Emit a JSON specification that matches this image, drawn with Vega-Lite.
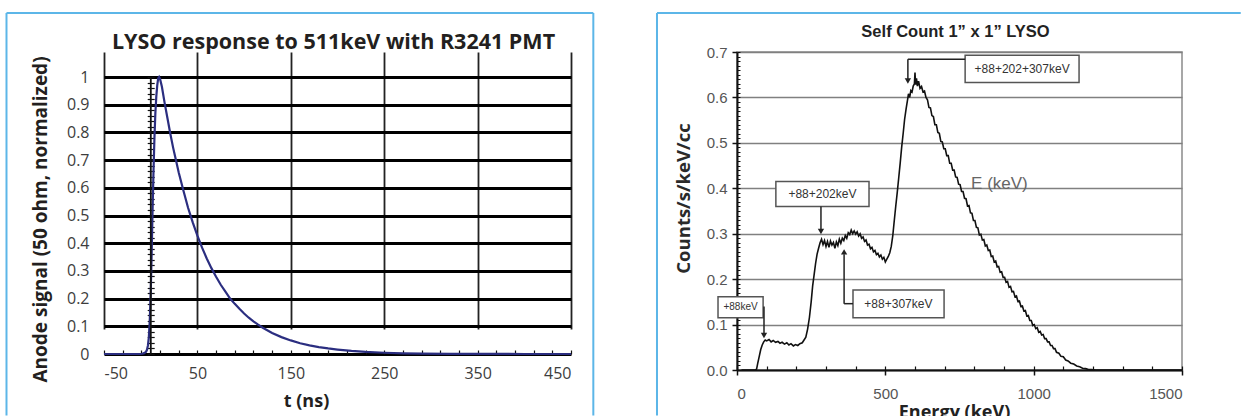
{
  "$schema": "https://vega.github.io/schema/vega-lite/v6.json",
  "background": "white",
  "padding": {"left": 5, "top": 11, "right": 0, "bottom": 0},
  "spacing": 60,
  "config": {"view": {"stroke": null}},
  "datasets": {
    "pulse": [
      {"t": -50, "v": 0}, {"t": -20, "v": 0}, {"t": -12, "v": 0}, {"t": -9, "v": 0.001}, {"t": -7, "v": 0.003},
      {"t": -5, "v": 0.008}, {"t": -4, "v": 0.015}, {"t": -3, "v": 0.03}, {"t": -2, "v": 0.06}, {"t": -1, "v": 0.12},
      {"t": 0, "v": 0.22}, {"t": 1, "v": 0.36}, {"t": 2, "v": 0.52}, {"t": 3, "v": 0.66}, {"t": 4, "v": 0.78},
      {"t": 5, "v": 0.87}, {"t": 6, "v": 0.93}, {"t": 7, "v": 0.97}, {"t": 8, "v": 0.995}, {"t": 9, "v": 1.0},
      {"t": 10, "v": 0.993}, {"t": 12, "v": 0.965}, {"t": 15, "v": 0.905}, {"t": 18, "v": 0.85}, {"t": 21, "v": 0.795},
      {"t": 24, "v": 0.745}, {"t": 27, "v": 0.7}, {"t": 30, "v": 0.655}, {"t": 35, "v": 0.59}, {"t": 40, "v": 0.528},
      {"t": 45, "v": 0.475}, {"t": 50, "v": 0.427}, {"t": 55, "v": 0.384}, {"t": 60, "v": 0.345}, {"t": 65, "v": 0.31},
      {"t": 70, "v": 0.279}, {"t": 75, "v": 0.25}, {"t": 80, "v": 0.225}, {"t": 85, "v": 0.2}, {"t": 90, "v": 0.181},
      {"t": 95, "v": 0.163}, {"t": 100, "v": 0.146}, {"t": 105, "v": 0.131}, {"t": 110, "v": 0.118}, {"t": 115, "v": 0.106},
      {"t": 120, "v": 0.095}, {"t": 130, "v": 0.076}, {"t": 140, "v": 0.061}, {"t": 150, "v": 0.049}, {"t": 160, "v": 0.039},
      {"t": 170, "v": 0.031}, {"t": 180, "v": 0.025}, {"t": 190, "v": 0.02}, {"t": 200, "v": 0.016}, {"t": 215, "v": 0.011},
      {"t": 230, "v": 0.0075}, {"t": 250, "v": 0.0045}, {"t": 270, "v": 0.0025}, {"t": 290, "v": 0.0015}, {"t": 320, "v": 0.0007},
      {"t": 350, "v": 0.0003}, {"t": 400, "v": 0}, {"t": 450, "v": 0}
    ],
    "spectrum": [
      {"e": 15, "v": 0}, {"e": 40, "v": 0}, {"e": 62, "v": 0}, {"e": 66, "v": 0.002}, {"e": 70, "v": 0.015}, {"e": 75, "v": 0.03},
      {"e": 80, "v": 0.045}, {"e": 85, "v": 0.055}, {"e": 90, "v": 0.062}, {"e": 95, "v": 0.066}, {"e": 100, "v": 0.064},
      {"e": 108, "v": 0.067}, {"e": 115, "v": 0.062}, {"e": 122, "v": 0.065}, {"e": 130, "v": 0.061}, {"e": 138, "v": 0.063},
      {"e": 145, "v": 0.059}, {"e": 152, "v": 0.061}, {"e": 160, "v": 0.057}, {"e": 168, "v": 0.06}, {"e": 175, "v": 0.055},
      {"e": 182, "v": 0.058}, {"e": 190, "v": 0.053}, {"e": 197, "v": 0.056}, {"e": 205, "v": 0.054}, {"e": 212, "v": 0.058},
      {"e": 220, "v": 0.06}, {"e": 226, "v": 0.066}, {"e": 232, "v": 0.072}, {"e": 238, "v": 0.09}, {"e": 244, "v": 0.115},
      {"e": 250, "v": 0.15}, {"e": 255, "v": 0.185}, {"e": 260, "v": 0.21}, {"e": 265, "v": 0.235}, {"e": 270, "v": 0.255},
      {"e": 275, "v": 0.268}, {"e": 280, "v": 0.28}, {"e": 285, "v": 0.288}, {"e": 290, "v": 0.276}, {"e": 295, "v": 0.285},
      {"e": 300, "v": 0.272}, {"e": 305, "v": 0.283}, {"e": 310, "v": 0.27}, {"e": 315, "v": 0.284}, {"e": 320, "v": 0.275},
      {"e": 325, "v": 0.281}, {"e": 330, "v": 0.268}, {"e": 335, "v": 0.282}, {"e": 340, "v": 0.274}, {"e": 345, "v": 0.288},
      {"e": 350, "v": 0.279}, {"e": 355, "v": 0.29}, {"e": 360, "v": 0.285}, {"e": 365, "v": 0.296}, {"e": 370, "v": 0.29},
      {"e": 375, "v": 0.302}, {"e": 380, "v": 0.298}, {"e": 385, "v": 0.308}, {"e": 390, "v": 0.3}, {"e": 395, "v": 0.306},
      {"e": 400, "v": 0.299}, {"e": 405, "v": 0.304}, {"e": 410, "v": 0.295}, {"e": 415, "v": 0.3}, {"e": 420, "v": 0.29},
      {"e": 425, "v": 0.293}, {"e": 430, "v": 0.283}, {"e": 435, "v": 0.286}, {"e": 440, "v": 0.275}, {"e": 445, "v": 0.277},
      {"e": 450, "v": 0.267}, {"e": 455, "v": 0.27}, {"e": 460, "v": 0.26}, {"e": 465, "v": 0.263}, {"e": 470, "v": 0.254},
      {"e": 475, "v": 0.257}, {"e": 480, "v": 0.249}, {"e": 485, "v": 0.253}, {"e": 490, "v": 0.244}, {"e": 495, "v": 0.248},
      {"e": 500, "v": 0.238}, {"e": 505, "v": 0.244}, {"e": 510, "v": 0.25}, {"e": 515, "v": 0.258}, {"e": 520, "v": 0.272},
      {"e": 525, "v": 0.295}, {"e": 530, "v": 0.328}, {"e": 535, "v": 0.36}, {"e": 540, "v": 0.39}, {"e": 545, "v": 0.422},
      {"e": 550, "v": 0.455}, {"e": 555, "v": 0.49}, {"e": 560, "v": 0.52}, {"e": 565, "v": 0.552}, {"e": 570, "v": 0.575},
      {"e": 575, "v": 0.595}, {"e": 578, "v": 0.608}, {"e": 582, "v": 0.6}, {"e": 586, "v": 0.615}, {"e": 590, "v": 0.612},
      {"e": 594, "v": 0.625}, {"e": 598, "v": 0.63}, {"e": 600, "v": 0.655}, {"e": 602, "v": 0.628}, {"e": 605, "v": 0.642},
      {"e": 608, "v": 0.625}, {"e": 612, "v": 0.636}, {"e": 617, "v": 0.62}, {"e": 622, "v": 0.624}, {"e": 627, "v": 0.612},
      {"e": 632, "v": 0.614}, {"e": 637, "v": 0.6}, {"e": 642, "v": 0.595}, {"e": 647, "v": 0.578}, {"e": 652, "v": 0.577},
      {"e": 657, "v": 0.56}, {"e": 662, "v": 0.558}, {"e": 667, "v": 0.54}, {"e": 672, "v": 0.54}, {"e": 677, "v": 0.523},
      {"e": 682, "v": 0.521}, {"e": 687, "v": 0.503}, {"e": 692, "v": 0.502}, {"e": 697, "v": 0.487}, {"e": 702, "v": 0.487},
      {"e": 707, "v": 0.472}, {"e": 712, "v": 0.472}, {"e": 717, "v": 0.455}, {"e": 722, "v": 0.455}, {"e": 727, "v": 0.44},
      {"e": 732, "v": 0.44}, {"e": 737, "v": 0.425}, {"e": 742, "v": 0.424}, {"e": 747, "v": 0.409}, {"e": 752, "v": 0.408},
      {"e": 757, "v": 0.393}, {"e": 762, "v": 0.393}, {"e": 767, "v": 0.378}, {"e": 772, "v": 0.377}, {"e": 777, "v": 0.361},
      {"e": 782, "v": 0.362}, {"e": 787, "v": 0.346}, {"e": 792, "v": 0.345}, {"e": 797, "v": 0.329}, {"e": 802, "v": 0.329},
      {"e": 807, "v": 0.314}, {"e": 812, "v": 0.313}, {"e": 817, "v": 0.297}, {"e": 822, "v": 0.299}, {"e": 827, "v": 0.286},
      {"e": 832, "v": 0.287}, {"e": 837, "v": 0.273}, {"e": 842, "v": 0.275}, {"e": 847, "v": 0.263}, {"e": 852, "v": 0.264},
      {"e": 857, "v": 0.25}, {"e": 862, "v": 0.251}, {"e": 867, "v": 0.238}, {"e": 872, "v": 0.24}, {"e": 877, "v": 0.227},
      {"e": 882, "v": 0.228}, {"e": 887, "v": 0.215}, {"e": 892, "v": 0.216}, {"e": 897, "v": 0.204}, {"e": 902, "v": 0.204},
      {"e": 907, "v": 0.193}, {"e": 912, "v": 0.195}, {"e": 917, "v": 0.182}, {"e": 922, "v": 0.184}, {"e": 927, "v": 0.172},
      {"e": 932, "v": 0.173}, {"e": 937, "v": 0.161}, {"e": 942, "v": 0.163}, {"e": 947, "v": 0.151}, {"e": 952, "v": 0.152},
      {"e": 957, "v": 0.14}, {"e": 962, "v": 0.141}, {"e": 967, "v": 0.13}, {"e": 972, "v": 0.131}, {"e": 977, "v": 0.119},
      {"e": 982, "v": 0.12}, {"e": 987, "v": 0.109}, {"e": 992, "v": 0.109}, {"e": 997, "v": 0.098}, {"e": 1002, "v": 0.1},
      {"e": 1007, "v": 0.091}, {"e": 1012, "v": 0.093}, {"e": 1017, "v": 0.083}, {"e": 1022, "v": 0.085}, {"e": 1027, "v": 0.077},
      {"e": 1032, "v": 0.078}, {"e": 1037, "v": 0.069}, {"e": 1042, "v": 0.069}, {"e": 1047, "v": 0.062}, {"e": 1052, "v": 0.062},
      {"e": 1057, "v": 0.054}, {"e": 1062, "v": 0.054}, {"e": 1067, "v": 0.047}, {"e": 1072, "v": 0.047}, {"e": 1077, "v": 0.039},
      {"e": 1085, "v": 0.037}, {"e": 1092, "v": 0.03}, {"e": 1100, "v": 0.029}, {"e": 1108, "v": 0.022}, {"e": 1116, "v": 0.02},
      {"e": 1125, "v": 0.015}, {"e": 1135, "v": 0.013}, {"e": 1145, "v": 0.009}, {"e": 1155, "v": 0.007}, {"e": 1165, "v": 0.004},
      {"e": 1175, "v": 0.003}, {"e": 1185, "v": 0.001}, {"e": 1195, "v": 0.001}, {"e": 1210, "v": 0}, {"e": 1250, "v": 0},
      {"e": 1350, "v": 0}, {"e": 1500, "v": 0}
    ],
    "boxes": [
      {"label": "+88+202+307keV", "e1": 769, "e2": 1153, "v1": 0.633, "v2": 0.693, "ec": 961, "vc": 0.663},
      {"label": "+88+202keV", "e1": 131, "e2": 445, "v1": 0.36, "v2": 0.415, "ec": 288, "vc": 0.388},
      {"label": "+88+307keV", "e1": 391, "e2": 698, "v1": 0.115, "v2": 0.176, "ec": 544, "vc": 0.146},
      {"label": "+88keV", "e1": -64, "e2": 88, "v1": 0.115, "v2": 0.161, "ec": 12, "vc": 0.138}
    ],
    "arrows": [
      {"e1": 576, "v1": 0.684, "e2": 769, "v2": 0.684},
      {"e1": 576, "v1": 0.684, "e2": 576, "v2": 0.64},
      {"e1": 283, "v1": 0.36, "e2": 283, "v2": 0.31},
      {"e1": 361, "v1": 0.146, "e2": 391, "v2": 0.146},
      {"e1": 361, "v1": 0.146, "e2": 361, "v2": 0.255},
      {"e1": 91, "v1": 0.14, "e2": 91, "v2": 0.08}
    ],
    "heads": [
      {"e": 576, "v": 0.636, "dir": "down"},
      {"e": 283, "v": 0.305, "dir": "down"},
      {"e": 361, "v": 0.26, "dir": "up"},
      {"e": 91, "v": 0.076, "dir": "down"}
    ]
  },
  "hconcat": [
    {
      "width": 467,
      "height": 302,
      "title": {"text": "LYSO response to 511keV with R3241 PMT", "font": "Open Sans", "fontSize": 21.5, "fontWeight": "bold", "color": "#231f20", "frame": "group", "anchor": "middle", "offset": -41.5, "dx": -4},
      "resolve": {"axis": {"x": "independent", "y": "independent"}},
      "layer": [
        {
          "data": {"name": "pulse"},
          "mark": {"type": "line", "color": "#2b2e80", "strokeWidth": 2.2},
          "encoding": {
            "x": {"field": "t", "type": "quantitative", "scale": {"domain": [-50, 450], "nice": false, "zero": false},
              "axis": {"orient": "bottom", "values": [-50, 50, 150, 250, 350, 450], "labelExpr": "replace(datum.label, '−', '-')", "grid": true, "gridColor": "#222222", "gridWidth": 1.8, "ticks": false, "domain": false,
                "labelFont": "Open Sans", "labelFontSize": 16, "labelColor": "#3d3d3d", "labelPadding": 11,
                "title": "t (ns)", "titleFont": "Open Sans", "titleFontSize": 18, "titleFontWeight": "bold", "titleColor": "#231f20", "titlePadding": 11, "titleX": 202}},
            "y": {"field": "v", "type": "quantitative", "scale": {"domain": [0, 1], "nice": false, "zero": false, "range": [302, 25]},
              "axis": {"orient": "left", "values": [0, 0.1, 0.2, 0.3, 0.4, 0.5, 0.6, 0.7, 0.8, 0.9, 1], "format": "~g", "grid": true, "gridColor": "#000000", "gridWidth": 3, "ticks": false, "domain": false,
                "labelFont": "Open Sans", "labelFontSize": 16, "labelColor": "#3d3d3d", "labelPadding": 15,
                "title": "Anode signal (50 ohm, normalized)", "titleFont": "Open Sans", "titleFontSize": 19, "titleFontWeight": "bold", "titleColor": "#231f20", "titlePadding": 16, "titleY": 167}}
          }
        },
        {
          "data": {"values": [{}]},
          "mark": {"type": "rule", "color": "#111111", "strokeWidth": 1.5},
          "encoding": {
            "x": {"datum": 0, "type": "quantitative", "scale": {"domain": [-50, 450], "nice": false, "zero": false},
              "axis": {"orient": "top", "offset": -302, "values": [-50, -30, -10, 10, 30, 50, 70, 90, 110, 130, 150, 170, 190, 210, 230, 250, 270, 290, 310, 330, 350, 370, 390, 410, 430, 450],
                "labels": false, "domain": false, "grid": false, "ticks": true, "tickSize": 4, "tickColor": "#111111", "tickWidth": 1.2, "title": null}},
            "y": {"datum": 0, "type": "quantitative", "scale": {"domain": [0, 1], "nice": false, "zero": false, "range": [302, 25]},
              "axis": {"orient": "left", "offset": -46.7, "values": [0, 0.02, 0.04, 0.06, 0.08, 0.1, 0.12, 0.14, 0.16, 0.18, 0.2, 0.22, 0.24, 0.26, 0.28, 0.3, 0.32, 0.34, 0.36, 0.38, 0.4, 0.42, 0.44, 0.46, 0.48, 0.5, 0.52, 0.54, 0.56, 0.58, 0.6, 0.62, 0.64, 0.66, 0.68, 0.7, 0.72, 0.74, 0.76, 0.78, 0.8, 0.82, 0.84, 0.86, 0.88, 0.9, 0.92, 0.94, 0.96, 0.98, 1],
                "labels": false, "domain": false, "grid": false, "ticks": true, "tickSize": 3.5, "tickColor": "#111111", "tickWidth": 1.2, "title": null}},
            "y2": {"datum": 1}
          }
        },
        {
          "data": {"values": [{}]},
          "mark": {"type": "rule", "color": "#111111", "strokeWidth": 1.5},
          "encoding": {
            "x": {"datum": 0, "type": "quantitative", "scale": {"domain": [-50, 450], "nice": false, "zero": false}, "axis": null},
            "y": {"datum": 0, "type": "quantitative", "scale": {"domain": [0, 1], "nice": false, "zero": false, "range": [302, 25]},
              "axis": {"orient": "right", "offset": -420.3, "values": [0, 0.02, 0.04, 0.06, 0.08, 0.1, 0.12, 0.14, 0.16, 0.18, 0.2, 0.22, 0.24, 0.26, 0.28, 0.3, 0.32, 0.34, 0.36, 0.38, 0.4, 0.42, 0.44, 0.46, 0.48, 0.5, 0.52, 0.54, 0.56, 0.58, 0.6, 0.62, 0.64, 0.66, 0.68, 0.7, 0.72, 0.74, 0.76, 0.78, 0.8, 0.82, 0.84, 0.86, 0.88, 0.9, 0.92, 0.94, 0.96, 0.98, 1],
                "labels": false, "domain": false, "grid": false, "ticks": true, "tickSize": 3.5, "tickColor": "#111111", "tickWidth": 1.2, "title": null}},
            "y2": {"datum": 1}
          }
        },
        {
          "data": {"values": [{}]},
          "mark": {"type": "rule", "color": "#5cb6e8", "strokeWidth": 2},
          "encoding": {
            "x": {"datum": -154.4, "type": "quantitative", "scale": {"domain": [-50, 450], "nice": false, "zero": false}, "axis": null},
            "y": {"datum": -0.222, "type": "quantitative", "scale": {"domain": [0, 1], "nice": false, "zero": false, "range": [302, 25]}, "axis": null},
            "y2": {"datum": 1.231}
          }
        },
        {
          "data": {"values": [{}]},
          "mark": {"type": "rule", "color": "#5cb6e8", "strokeWidth": 2},
          "encoding": {
            "x": {"datum": 473.9, "type": "quantitative", "scale": {"domain": [-50, 450], "nice": false, "zero": false}, "axis": null},
            "y": {"datum": -0.222, "type": "quantitative", "scale": {"domain": [0, 1], "nice": false, "zero": false, "range": [302, 25]}, "axis": null},
            "y2": {"datum": 1.231}
          }
        },
        {
          "data": {"values": [{}]},
          "mark": {"type": "rule", "color": "#5cb6e8", "strokeWidth": 2},
          "encoding": {
            "x": {"datum": -154.4, "type": "quantitative", "scale": {"domain": [-50, 450], "nice": false, "zero": false}, "axis": null},
            "x2": {"datum": 473.9},
            "y": {"datum": 1.231, "type": "quantitative", "scale": {"domain": [0, 1], "nice": false, "zero": false, "range": [302, 25]}, "axis": null}
          }
        }
      ]
    },
    {
      "width": 445,
      "height": 318,
      "view": {"stroke": "#8a8a8a", "strokeWidth": 1.5},
      "title": {"text": "Self Count 1” x 1” LYSO", "font": "Liberation Sans", "fontSize": 16.5, "fontWeight": "bold", "color": "#222222", "frame": "group", "anchor": "middle", "offset": -28, "dx": -4},
      "resolve": {"axis": {"x": "independent", "y": "independent"}},
      "layer": [
        {
          "data": {"name": "spectrum"},
          "mark": {"type": "line", "color": "#111111", "strokeWidth": 1.6},
          "encoding": {
            "x": {"field": "e", "type": "quantitative", "scale": {"domain": [0, 1500], "nice": false, "zero": false},
              "axis": {"orient": "bottom", "values": [0, 500, 1000, 1500], "format": "d", "grid": false, "ticks": true, "tickSize": 5, "tickColor": "#111111", "tickWidth": 1.5, "domain": true, "domainColor": "#111111", "domainWidth": 2,
                "labelFont": "Liberation Sans", "labelFontSize": 15, "labelColor": "#555555", "labelPadding": 11,
                "title": "Energy (keV)", "titleFont": "Open Sans", "titleFontSize": 18, "titleFontWeight": "bold", "titleColor": "#222222", "titlePadding": 2, "titleX": 217}},
            "y": {"field": "v", "type": "quantitative", "scale": {"domain": [0, 0.7], "nice": false, "zero": false},
              "axis": {"orient": "left", "values": [0, 0.1, 0.2, 0.3, 0.4, 0.5, 0.6, 0.7], "format": ".1f", "grid": true, "gridColor": "#808080", "gridWidth": 1.5, "ticks": true, "tickSize": 5, "tickColor": "#111111", "tickWidth": 1.5, "domain": true, "domainColor": "#111111", "domainWidth": 2,
                "labelFont": "Liberation Sans", "labelFontSize": 15, "labelColor": "#555555", "labelPadding": 5,
                "title": "Counts/s/keV/cc", "titleFont": "Open Sans", "titleFontSize": 18.5, "titleFontWeight": "bold", "titleColor": "#2a2a2a", "titlePadding": 13, "titleY": 146}}
          }
        },
        {
          "data": {"values": [{}]},
          "mark": {"type": "point", "opacity": 0},
          "encoding": {
            "x": {"datum": 0, "type": "quantitative", "scale": {"domain": [0, 1500], "nice": false, "zero": false},
              "axis": {"orient": "top", "offset": -318, "values": [0, 100, 200, 300, 400, 500, 600, 700, 800, 900, 1000, 1100, 1200, 1300, 1400, 1500],
                "labels": false, "domain": false, "grid": false, "ticks": true, "tickSize": 4, "tickColor": "#111111", "tickWidth": 1.2, "title": null}},
            "y": {"datum": 0, "type": "quantitative", "scale": {"domain": [0, 0.7], "nice": false, "zero": false},
              "axis": {"orient": "right", "offset": -445, "values": [0, 0.01, 0.02, 0.03, 0.04, 0.05, 0.06, 0.07, 0.08, 0.09, 0.1, 0.11, 0.12, 0.13, 0.14, 0.15, 0.16, 0.17, 0.18, 0.19, 0.2, 0.21, 0.22, 0.23, 0.24, 0.25, 0.26, 0.27, 0.28, 0.29, 0.3, 0.31, 0.32, 0.33, 0.34, 0.35, 0.36, 0.37, 0.38, 0.39, 0.4, 0.41, 0.42, 0.43, 0.44, 0.45, 0.46, 0.47, 0.48, 0.49, 0.5, 0.51, 0.52, 0.53, 0.54, 0.55, 0.56, 0.57, 0.58, 0.59, 0.6, 0.61, 0.62, 0.63, 0.64, 0.65, 0.66, 0.67, 0.68, 0.69, 0.7],
                "labels": false, "domain": false, "grid": false, "ticks": true, "tickSize": 3, "tickColor": "#111111", "tickWidth": 1, "title": null}}
          }
        },
        {
          "data": {"name": "boxes"},
          "mark": {"type": "rect", "fill": "white", "stroke": "#555555", "strokeWidth": 1.5},
          "encoding": {
            "x": {"field": "e1", "type": "quantitative", "scale": {"domain": [0, 1500], "nice": false, "zero": false}, "axis": null},
            "x2": {"field": "e2"},
            "y": {"field": "v1", "type": "quantitative", "scale": {"domain": [0, 0.7], "nice": false, "zero": false}, "axis": null},
            "y2": {"field": "v2"}
          }
        },
        {
          "data": {"name": "boxes"},
          "transform": [{"filter": "datum.label !== '+88keV'"}],
          "mark": {"type": "text", "font": "Liberation Sans", "fontSize": 12, "color": "#333333"},
          "encoding": {
            "x": {"field": "ec", "type": "quantitative", "scale": {"domain": [0, 1500], "nice": false, "zero": false}, "axis": null},
            "y": {"field": "vc", "type": "quantitative", "scale": {"domain": [0, 0.7], "nice": false, "zero": false}, "axis": null},
            "text": {"field": "label"}
          }
        },
        {
          "data": {"name": "boxes"},
          "transform": [{"filter": "datum.label === '+88keV'"}],
          "mark": {"type": "text", "font": "Liberation Sans", "fontSize": 10, "color": "#333333"},
          "encoding": {
            "x": {"field": "ec", "type": "quantitative", "scale": {"domain": [0, 1500], "nice": false, "zero": false}, "axis": null},
            "y": {"field": "vc", "type": "quantitative", "scale": {"domain": [0, 0.7], "nice": false, "zero": false}, "axis": null},
            "text": {"field": "label"}
          }
        },
        {
          "data": {"name": "arrows"},
          "mark": {"type": "rule", "color": "#222222", "strokeWidth": 1.5},
          "encoding": {
            "x": {"field": "e1", "type": "quantitative", "scale": {"domain": [0, 1500], "nice": false, "zero": false}, "axis": null},
            "x2": {"field": "e2"},
            "y": {"field": "v1", "type": "quantitative", "scale": {"domain": [0, 0.7], "nice": false, "zero": false}, "axis": null},
            "y2": {"field": "v2"}
          }
        },
        {
          "data": {"name": "heads"},
          "mark": {"type": "point", "filled": true, "color": "#222222", "size": 40, "opacity": 1},
          "encoding": {
            "x": {"field": "e", "type": "quantitative", "scale": {"domain": [0, 1500], "nice": false, "zero": false}, "axis": null},
            "y": {"field": "v", "type": "quantitative", "scale": {"domain": [0, 0.7], "nice": false, "zero": false}, "axis": null},
            "shape": {"field": "dir", "type": "nominal", "scale": {"domain": ["down", "up"], "range": ["triangle-down", "triangle-up"]}, "legend": null}
          }
        },
        {
          "data": {"values": [{}]},
          "mark": {"type": "text", "text": "E (keV)", "font": "Liberation Sans", "fontSize": 17, "color": "#666666", "align": "left", "baseline": "middle"},
          "encoding": {
            "x": {"datum": 789, "type": "quantitative", "scale": {"domain": [0, 1500], "nice": false, "zero": false}, "axis": null},
            "y": {"datum": 0.41, "type": "quantitative", "scale": {"domain": [0, 0.7], "nice": false, "zero": false}, "axis": null}
          }
        },
        {
          "data": {"values": [{}]},
          "mark": {"type": "rule", "color": "#5cb6e8", "strokeWidth": 2},
          "encoding": {
            "x": {"datum": -269.7, "type": "quantitative", "scale": {"domain": [0, 1500], "nice": false, "zero": false}, "axis": null},
            "y": {"datum": -0.1, "type": "quantitative", "scale": {"domain": [0, 0.7], "nice": false, "zero": false}, "axis": null},
            "y2": {"datum": 0.7858}
          }
        },
        {
          "data": {"values": [{}]},
          "mark": {"type": "rule", "color": "#5cb6e8", "strokeWidth": 2},
          "encoding": {
            "x": {"datum": -269.7, "type": "quantitative", "scale": {"domain": [0, 1500], "nice": false, "zero": false}, "axis": null},
            "x2": {"datum": 1698},
            "y": {"datum": 0.7858, "type": "quantitative", "scale": {"domain": [0, 0.7], "nice": false, "zero": false}, "axis": null}
          }
        }
      ]
    }
  ]
}
